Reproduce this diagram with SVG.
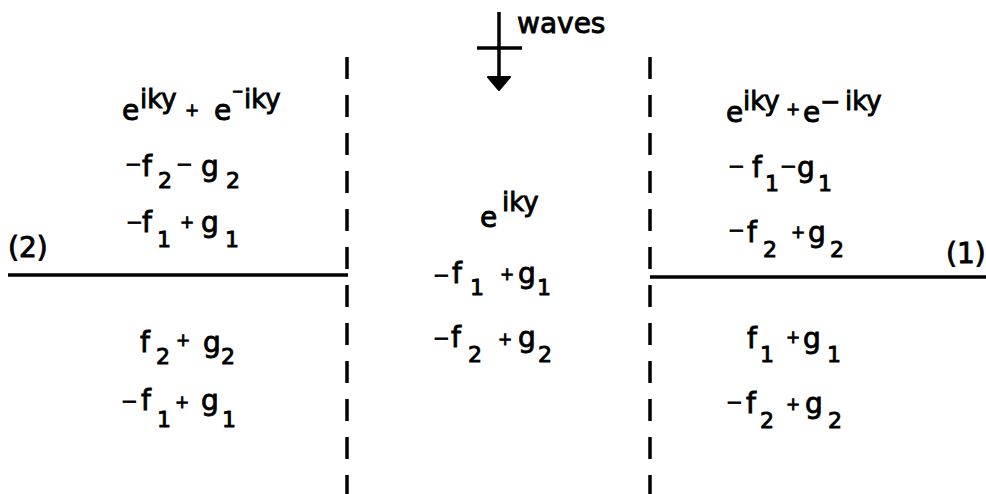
<svg xmlns="http://www.w3.org/2000/svg" width="986" height="494" viewBox="0 0 986 494">
<style>
text{font-family:"DejaVu Sans","Liberation Sans",sans-serif;fill:#000;stroke:#000;stroke-width:0.9px;font-size:28px}
.sp{font-size:26px}
.sb{font-size:22px}
.pl{font-size:17px}
.mn{font-size:20px}
.ml{font-size:24px}
.ms{font-size:14px}
.ln{stroke:#000;stroke-width:3.5;fill:none}
.dash{stroke:#000;stroke-width:3.5;fill:none;stroke-dasharray:22 16}
</style>
<rect width="986" height="494" fill="#fff"/>
<g id="connectors">
<line class="dash" x1="347" y1="57" x2="347" y2="494"/>
<line class="dash" x1="650" y1="57" x2="650" y2="494"/>
<line class="ln" x1="8" y1="275" x2="348" y2="275" stroke-width="4"/>
<line class="ln" x1="650" y1="277" x2="986" y2="277" stroke-width="4"/>
</g>
<g id="waves">
<line class="ln" x1="499" y1="12" x2="499" y2="80"/>
<line class="ln" x1="477" y1="48" x2="522" y2="48"/>
<polygon points="488,77 510,77 499,90" fill="#000" stroke="#000" stroke-width="2" stroke-linejoin="round"/>
<text x="517" y="33" font-size="30">waves</text>
</g>
<g id="region-left">
<text x="8" y="257" font-size="27">(2)</text>
<text><tspan x="122" y="120">e</tspan><tspan class="sp" x="140" y="108">iky</tspan><tspan class="pl" x="185" y="116">+</tspan><tspan x="214" y="120">e</tspan><tspan class="ms" x="232" y="96">−</tspan><tspan class="sp" x="244" y="108">iky</tspan></text>
<text><tspan class="mn" x="125" y="171">−</tspan><tspan x="142" y="176">f</tspan><tspan class="sb" x="158" y="188">2</tspan><tspan class="mn" x="176" y="171">−</tspan><tspan x="201" y="176">g</tspan><tspan class="sb" x="226" y="188">2</tspan></text>
<text><tspan class="mn" x="126" y="229">−</tspan><tspan x="142" y="232">f</tspan><tspan class="sb" x="157" y="247">1</tspan><tspan class="pl" x="180" y="228">+</tspan><tspan x="201" y="232">g</tspan><tspan class="sb" x="225" y="247">1</tspan></text>
<text><tspan x="140" y="352">f</tspan><tspan class="sb" x="156" y="364">2</tspan><tspan class="pl" x="176" y="346">+</tspan><tspan x="203" y="352">g</tspan><tspan class="sb" x="221" y="364">2</tspan></text>
<text><tspan class="mn" x="121" y="408">−</tspan><tspan x="141" y="410">f</tspan><tspan class="sb" x="157" y="427">1</tspan><tspan class="pl" x="175" y="408">+</tspan><tspan x="201" y="410">g</tspan><tspan class="sb" x="222" y="427">1</tspan></text>
</g>
<g id="region-center">
<text><tspan x="480" y="227">e</tspan><tspan class="sp" x="502" y="211">iky</tspan></text>
<text><tspan class="mn" x="433" y="282">−</tspan><tspan x="452" y="283">f</tspan><tspan class="sb" x="470" y="295">1</tspan><tspan class="pl" x="500" y="280">+</tspan><tspan x="518" y="283">g</tspan><tspan class="sb" x="537" y="295">1</tspan></text>
<text><tspan class="mn" x="433" y="345">−</tspan><tspan x="451" y="347">f</tspan><tspan class="sb" x="468" y="362">2</tspan><tspan class="pl" x="498" y="345">+</tspan><tspan x="518" y="347">g</tspan><tspan class="sb" x="538" y="362">2</tspan></text>
</g>
<g id="region-right">
<text x="946" y="263" font-size="27">(1)</text>
<text><tspan x="726" y="122">e</tspan><tspan class="sp" x="743" y="110">iky</tspan><tspan class="pl" x="786" y="115">+</tspan><tspan x="803" y="122">e</tspan><tspan class="ml" x="820" y="110">−</tspan><tspan class="sp" x="845" y="110">iky</tspan></text>
<text><tspan class="mn" x="728" y="173">−</tspan><tspan x="752" y="177">f</tspan><tspan class="sb" x="765" y="191">1</tspan><tspan class="mn" x="780" y="173">−</tspan><tspan x="797" y="177">g</tspan><tspan class="sb" x="818" y="191">1</tspan></text>
<text><tspan class="mn" x="728" y="237">−</tspan><tspan x="747" y="242">f</tspan><tspan class="sb" x="763" y="257">2</tspan><tspan class="pl" x="791" y="238">+</tspan><tspan x="808" y="242">g</tspan><tspan class="sb" x="830" y="257">2</tspan></text>
<text><tspan x="747" y="348">f</tspan><tspan class="sb" x="760" y="362">1</tspan><tspan class="pl" x="786" y="343">+</tspan><tspan x="803" y="348">g</tspan><tspan class="sb" x="827" y="362">1</tspan></text>
<text><tspan class="mn" x="726" y="409">−</tspan><tspan x="746" y="413">f</tspan><tspan class="sb" x="760" y="428">2</tspan><tspan class="pl" x="786" y="410">+</tspan><tspan x="805" y="413">g</tspan><tspan class="sb" x="828" y="428">2</tspan></text>
</g>
</svg>
